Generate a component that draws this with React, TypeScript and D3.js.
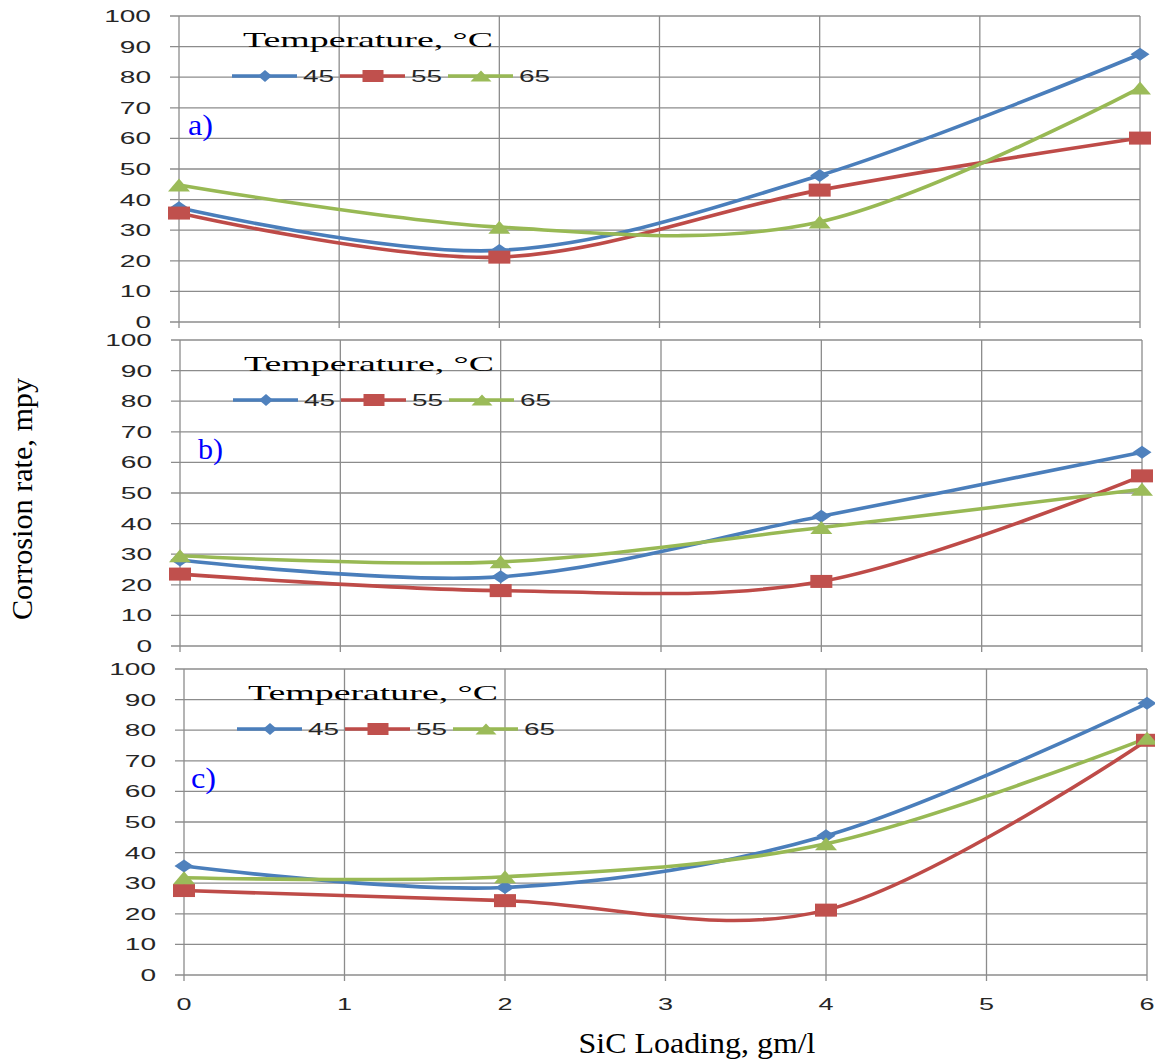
import React from "react";
import * as d3 from "d3";

// SiC loading (gm/l) at which corrosion rate was measured
const loadings = [0, 2, 4, 6];
const xTicks = [0, 1, 2, 3, 4, 5, 6];
const yTicks = [0, 10, 20, 30, 40, 50, 60, 70, 80, 90, 100];
const temperatures = ["45", "55", "65"];

// corrosion rate, mpy — panel a)
const a45 = [37.3, 23.4, 47.9, 87.5];
const a55 = [35.6, 21.2, 43.1, 60.1];
const a65 = [44.8, 31.0, 32.7, 76.5];
// panel b)
const b45 = [28.1, 22.6, 42.4, 63.3];
const b55 = [23.5, 18.1, 21.1, 55.6];
const b65 = [29.5, 27.5, 38.7, 51.2];
// panel c)
const c45 = [35.6, 28.6, 45.5, 88.8];
const c55 = [27.6, 24.3, 21.2, 76.7];
const c65 = [31.8, 32.1, 42.9, 77.4];

const panelLabels = ["a)", "b)", "c)"];
const panelSeries = [
  [a45, a55, a65],
  [b45, b55, b65],
  [c45, c55, c65],
];

// layout of each sub-plot on the page
const frames = [
  { left: 179, right: 1140, top: 16, bottom: 322, labelDx: 9 },
  { left: 180, right: 1142, top: 340, bottom: 646, labelDx: 18 },
  { left: 184, right: 1147, top: 669, bottom: 975, labelDx: 7 },
];

const lineColors = ["#4a7ebb", "#be4b48", "#98b954"];
const markColors = ["#4f81bd", "#c0504d", "#9bbb59"];
const gridColor = "#8c8c8c";
const sans = "'Liberation Sans', Arial, sans-serif";
const serif = "'Liberation Serif', 'Times New Roman', serif";

const Marker = ({ kind, x, y, color, w, h }) => {
  if (kind === 0) {
    return (
      <path
        d={`M${x - w / 2},${y}L${x},${y - h / 2}L${x + w / 2},${y}L${x},${y + h / 2}Z`}
        fill={color}
      />
    );
  }
  if (kind === 1) {
    return <rect x={x - w / 2} y={y - h / 2} width={w} height={h} fill={color} />;
  }
  return (
    <path
      d={`M${x - w / 2},${y + h / 2}L${x},${y - h / 2}L${x + w / 2},${y + h / 2}Z`}
      fill={color}
    />
  );
};

const Panel = ({ frame, series, label, showX }) => {
  const x = d3.scaleLinear().domain([0, 6]).range([frame.left, frame.right]);
  const y = d3.scaleLinear().domain([0, 100]).range([frame.bottom, frame.top]);
  const line = d3
    .line<number>()
    .x((_, i) => x(loadings[i]))
    .y((d) => y(d))
    .curve(d3.curveCardinal.tension(0));

  const legX = frame.left + 53;
  const legY = frame.top + 60;

  return (
    <g>
      {/* gridlines */}
      {yTicks.map((t) => (
        <line
          key={"h" + t}
          x1={frame.left - 9}
          x2={frame.right}
          y1={y(t)}
          y2={y(t)}
          stroke={gridColor}
          strokeWidth={1.3}
        />
      ))}
      {xTicks.map((t) => (
        <line
          key={"v" + t}
          x1={x(t)}
          x2={x(t)}
          y1={frame.top}
          y2={frame.bottom + 6}
          stroke={gridColor}
          strokeWidth={1.3}
        />
      ))}
      {yTicks.map((t) => (
        <text
          key={"yl" + t}
          x={frame.left - 28}
          y={y(t) + 6}
          textAnchor="end"
          fontFamily={sans}
          fontSize={16}
          fill="#262626"
          textLength={String(t).length * 15.6}
          lengthAdjust="spacingAndGlyphs"
        >
          {t}
        </text>
      ))}
      {showX &&
        xTicks.map((t) => (
          <text
            key={"xl" + t}
            x={x(t)}
            y={frame.bottom + 35}
            textAnchor="middle"
            fontFamily={sans}
            fontSize={16}
            fill="#262626"
            textLength={15}
            lengthAdjust="spacingAndGlyphs"
          >
            {t}
          </text>
        ))}

      {/* series */}
      {series.map((vals, si) => (
        <path
          key={"s" + si}
          d={line(vals) ?? ""}
          fill="none"
          stroke={lineColors[si]}
          strokeWidth={3.6}
        />
      ))}
      {series.map((vals, si) =>
        vals.map((v, i) => (
          <Marker
            key={"m" + si + "-" + i}
            kind={si}
            x={x(loadings[i])}
            y={y(v)}
            color={markColors[si]}
            w={si === 0 ? 19 : 22}
            h={13}
          />
        ))
      )}

      {/* legend */}
      <text
        x={frame.left + 64}
        y={frame.top + 31}
        fontFamily={serif}
        fontSize={22}
        fill="#000"
        textLength={250}
        lengthAdjust="spacingAndGlyphs"
      >
        Temperature, °C
      </text>
      {temperatures.map((t, si) => {
        const sx = legX + si * 108;
        return (
          <g key={"lg" + t}>
            <line
              x1={sx}
              x2={sx + 65}
              y1={legY}
              y2={legY}
              stroke={lineColors[si]}
              strokeWidth={3.6}
            />
            <Marker
              kind={si}
              x={sx + 33}
              y={legY}
              color={markColors[si]}
              w={si === 0 ? 14 : 21}
              h={si === 2 ? 11 : 12}
            />
            <text
              x={sx + 71}
              y={legY + 6}
              fontFamily={sans}
              fontSize={16}
              fill="#262626"
              textLength={31}
              lengthAdjust="spacingAndGlyphs"
            >
              {t}
            </text>
          </g>
        );
      })}

      <text
        x={frame.left + frame.labelDx}
        y={frame.top + 119}
        fontFamily={serif}
        fontSize={30}
        fill="#0000ff"
        textLength={25}
        lengthAdjust="spacingAndGlyphs"
      >
        {label}
      </text>
    </g>
  );
};

export default function App() {
  return (
    <svg
      width={1155}
      height={1064}
      style={{ position: "absolute", left: 0, top: 0, background: "#fff" }}
    >
      <rect width={1155} height={1064} fill="#fff" />
      {frames.map((f, i) => (
        <Panel
          key={i}
          frame={f}
          series={panelSeries[i]}
          label={panelLabels[i]}
          showX={i === 2}
        />
      ))}
      <text
        transform="translate(32,499) rotate(-90)"
        textAnchor="middle"
        fontFamily={serif}
        fontSize={30}
        fill="#000"
        textLength={242}
        lengthAdjust="spacingAndGlyphs"
      >
        Corrosion rate, mpy
      </text>
      <text
        x={697}
        y={1053}
        textAnchor="middle"
        fontFamily={serif}
        fontSize={30}
        fill="#000"
        textLength={237}
        lengthAdjust="spacingAndGlyphs"
      >
        SiC Loading, gm/l
      </text>
    </svg>
  );
}
